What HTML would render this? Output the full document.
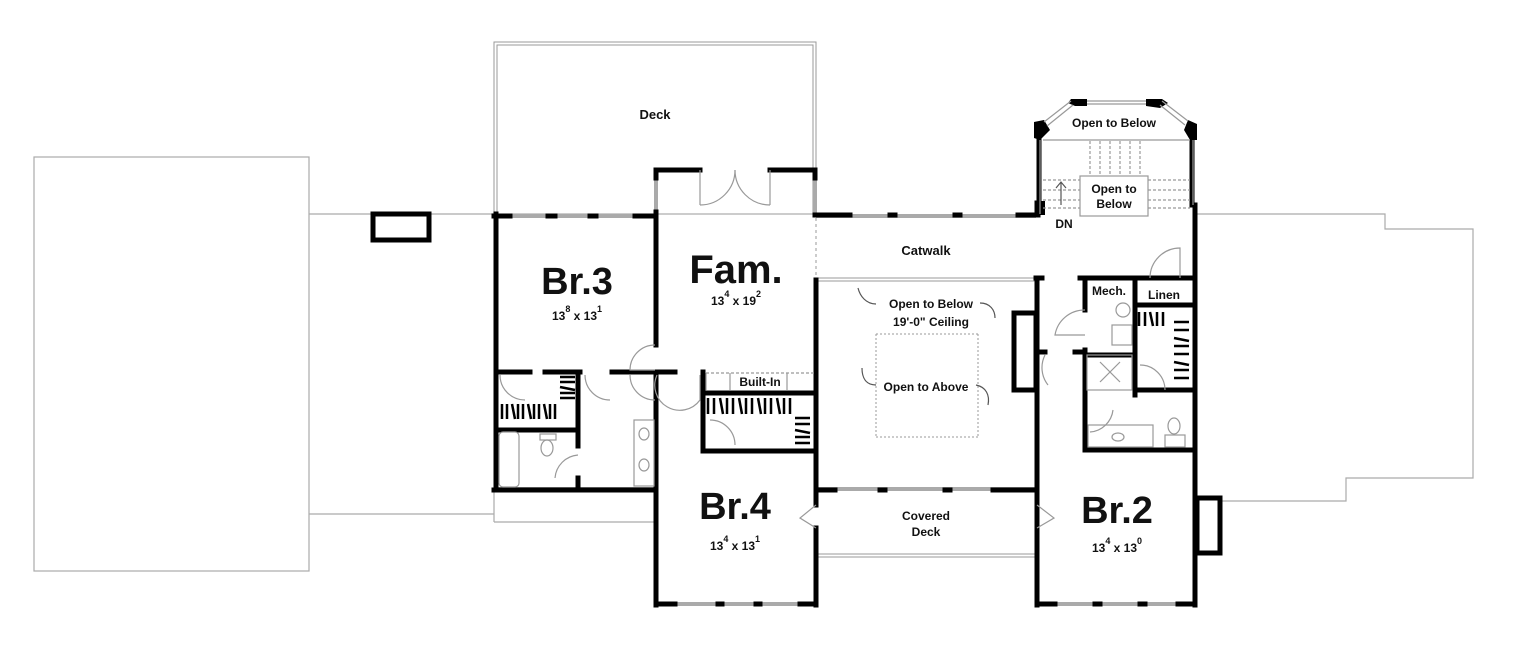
<!DOCTYPE html>
<html><head><style>
html,body{margin:0;padding:0;background:#fff;}
svg{display:block}
text{font-family:"Liberation Sans",sans-serif;font-weight:bold;fill:#111;text-anchor:middle}
</style></head><body>
<svg width="1520" height="666" viewBox="0 0 1520 666" xmlns="http://www.w3.org/2000/svg">
<rect width="1520" height="666" fill="#fff"/>
<g fill="none" stroke="#aaa" stroke-width="1.2">
<rect x="34" y="157" width="275" height="414"/>
<line x1="309" y1="214" x2="494" y2="214"/>
<line x1="309" y1="514" x2="494" y2="514"/>
<line x1="494" y1="490" x2="494" y2="522"/>
<line x1="494" y1="522" x2="655" y2="522"/>
<polyline points="1197,214 1385,214 1385,229 1473,229 1473,478 1346,478 1346,501 1222,501"/>
</g>
<rect x="373" y="214" width="56" height="26" fill="none" stroke="#000" stroke-width="5"/>
<g fill="none" stroke="#999" stroke-width="1">
<rect x="494" y="42" width="322" height="172"/>
<rect x="497" y="45" width="316" height="169"/>
<line x1="818" y1="278" x2="1036" y2="278"/><line x1="818" y1="281" x2="1036" y2="281"/>
<line x1="818" y1="554" x2="1036" y2="554"/><line x1="818" y1="557" x2="1036" y2="557"/>
<line x1="816" y1="218" x2="816" y2="276" stroke-dasharray="3 3"/>
<line x1="876" y1="334" x2="876" y2="437" stroke-dasharray="2 2"/>
<line x1="978" y1="334" x2="978" y2="437" stroke-dasharray="2 2"/>
<line x1="876" y1="334" x2="978" y2="334" stroke-dasharray="2 2"/>
<line x1="876" y1="437" x2="978" y2="437" stroke-dasharray="2 2"/>
</g>
<g stroke="#aaa" stroke-width="4">
<line x1="494" y1="216" x2="655" y2="216"/>
<line x1="816" y1="216" x2="1036" y2="216"/>
<line x1="494" y1="489" x2="655" y2="489"/>
<line x1="818" y1="489" x2="1036" y2="489"/>
<line x1="655" y1="604" x2="818" y2="604"/>
<line x1="1036" y1="604" x2="1195" y2="604"/>
<line x1="656" y1="170" x2="656" y2="214"/>
<line x1="815" y1="170" x2="815" y2="214"/>
</g>
<g fill="none" stroke="#000" stroke-width="5" stroke-linecap="square">
<polyline points="496,214 496,490 655,490"/>
<line x1="494" y1="216" x2="510" y2="216"/><line x1="548" y1="216" x2="555" y2="216"/><line x1="590" y1="216" x2="596" y2="216"/><line x1="635" y1="216" x2="655" y2="216"/>
<line x1="494" y1="490" x2="520" y2="490"/><line x1="565" y1="490" x2="575" y2="490"/><line x1="615" y1="490" x2="655" y2="490"/>
<polyline points="656,178 656,170 700,170"/><polyline points="770,170 815,170 815,178"/>
<line x1="815" y1="215" x2="838" y2="215"/>
<line x1="656" y1="212" x2="656" y2="345"/>
<line x1="656" y1="372" x2="656" y2="605"/>
<line x1="816" y1="280" x2="816" y2="505"/>
<line x1="816" y1="528" x2="816" y2="605"/>
<line x1="656" y1="604" x2="675" y2="604"/><line x1="718" y1="604" x2="722" y2="604"/><line x1="756" y1="604" x2="760" y2="604"/><line x1="800" y1="604" x2="816" y2="604"/>
<polyline points="497,372 530,372"/><line x1="545" y1="372" x2="580" y2="372"/><line x1="612" y1="372" x2="655" y2="372"/>
<line x1="578" y1="372" x2="578" y2="430"/>
<line x1="496" y1="430" x2="578" y2="430"/>
<line x1="578" y1="430" x2="578" y2="446"/>
<line x1="578" y1="478" x2="578" y2="490"/>
<line x1="655" y1="372" x2="675" y2="372"/>
<line x1="703" y1="372" x2="703" y2="446"/>
<line x1="703" y1="393" x2="815" y2="393"/>
<line x1="703" y1="451" x2="815" y2="451"/>
<line x1="838" y1="215" x2="850" y2="215"/><line x1="890" y1="215" x2="895" y2="215"/><line x1="955" y1="215" x2="960" y2="215"/><line x1="1018" y1="215" x2="1038" y2="215"/>
<line x1="1037" y1="203" x2="1037" y2="215"/>
<line x1="1037" y1="280" x2="1037" y2="605"/>
<rect x="1014" y="313" width="22" height="77"/>
<line x1="818" y1="490" x2="835" y2="490"/><line x1="880" y1="490" x2="885" y2="490"/><line x1="945" y1="490" x2="950" y2="490"/><line x1="993" y1="490" x2="1036" y2="490"/>
<line x1="1195" y1="205" x2="1195" y2="605"/>
<line x1="1037" y1="604" x2="1055" y2="604"/><line x1="1095" y1="604" x2="1100" y2="604"/><line x1="1140" y1="604" x2="1145" y2="604"/><line x1="1178" y1="604" x2="1195" y2="604"/>
<rect x="1197" y="498" width="23" height="55"/>
<line x1="1085" y1="450" x2="1195" y2="450"/>
<line x1="1085" y1="385" x2="1085" y2="450"/>
<line x1="1085" y1="278" x2="1085" y2="310"/>
<line x1="1085" y1="350" x2="1085" y2="355"/>
<line x1="1036" y1="278" x2="1042" y2="278"/>
<line x1="1080" y1="278" x2="1190" y2="278"/>
<line x1="1135" y1="278" x2="1135" y2="395"/>
<line x1="1135" y1="305" x2="1195" y2="305"/>
<line x1="1085" y1="355" x2="1135" y2="355"/>
<line x1="1140" y1="390" x2="1195" y2="390"/>
<line x1="1036" y1="352" x2="1045" y2="352"/><line x1="1075" y1="352" x2="1085" y2="352"/>
<line x1="1085" y1="355" x2="1085" y2="395"/>
<polyline points="1030,215 1037,215 1037,205"/>
<line x1="1039" y1="205" x2="1039" y2="138"/>
<line x1="1192" y1="205" x2="1192" y2="138"/>
</g>
<g fill="#000">
<polygon points="1034,122 1044,120 1050,130 1040,140 1034,138"/>
<polygon points="1071,99 1087,99 1087,106 1075,106 1068,103"/>
<polygon points="1146,99 1162,99 1168,103 1160,108 1146,106"/>
<polygon points="1188,120 1197,124 1197,140 1190,140 1184,130"/>
<rect x="1035" y="201" width="10" height="14"/>
</g>
<g fill="none" stroke="#999" stroke-width="1.2">
<line x1="1087" y1="101" x2="1146" y2="101"/><line x1="1087" y1="104" x2="1146" y2="104"/>
<line x1="1044" y1="122" x2="1071" y2="101"/><line x1="1047" y1="126" x2="1073" y2="105"/>
<line x1="1162" y1="101" x2="1188" y2="121"/><line x1="1160" y1="105" x2="1185" y2="125"/>
<line x1="1043" y1="140" x2="1190" y2="140"/>
<rect x="1080" y="176" width="68" height="40"/>
<line x1="1040" y1="140" x2="1040" y2="214"/><line x1="1193" y1="140" x2="1193" y2="205"/>
<g stroke-dasharray="3 2">
<line x1="1090" y1="141" x2="1090" y2="176"/><line x1="1100" y1="141" x2="1100" y2="176"/><line x1="1110" y1="141" x2="1110" y2="176"/><line x1="1120" y1="141" x2="1120" y2="176"/><line x1="1130" y1="141" x2="1130" y2="176"/><line x1="1140" y1="141" x2="1140" y2="176"/>
<line x1="1043" y1="180" x2="1080" y2="180"/><line x1="1043" y1="190" x2="1080" y2="190"/><line x1="1043" y1="200" x2="1080" y2="200"/><line x1="1043" y1="208" x2="1080" y2="208"/>
<line x1="1148" y1="180" x2="1190" y2="180"/><line x1="1148" y1="190" x2="1190" y2="190"/><line x1="1148" y1="200" x2="1190" y2="200"/><line x1="1148" y1="208" x2="1190" y2="208"/>
</g>
<line x1="1061" y1="205" x2="1061" y2="182" stroke="#555"/><polyline points="1056,188 1061,182 1066,188" stroke="#555"/>
<line x1="700" y1="170" x2="700" y2="205"/><line x1="770" y1="170" x2="770" y2="205"/>
<path d="M700 205 A35 35 0 0 0 735 170"/><path d="M770 205 A35 35 0 0 1 735 170"/>
<path d="M655 345 A25 25 0 0 0 630 370 L655 370"/>
<path d="M630 375 A25 25 0 0 0 655 400"/>
<path d="M657 375 A25 25 0 0 0 700 400 L700 375"/>
<path d="M816 505 L800 518 L816 528"/>
<path d="M1037 505 L1054 518 L1037 528"/>
<path d="M500 375 A25 25 0 0 0 525 400"/>
<path d="M585 375 A25 25 0 0 0 610 400"/>
<path d="M555 478 A25 25 0 0 1 578 455"/>
<path d="M1085 310 A30 30 0 0 0 1055 335 L1085 335"/>
<path d="M1045 355 A28 28 0 0 0 1048 385"/>
<path d="M1150 278 A30 30 0 0 1 1180 248 L1180 278"/>
<path d="M1140 365 A25 25 0 0 1 1165 390"/>
<path d="M1090 432 A25 25 0 0 0 1113 410"/>
<path d="M710 420 A25 25 0 0 1 735 445"/>
<rect x="499" y="432" width="20" height="55" rx="4"/>
<ellipse cx="547" cy="448" rx="6" ry="8"/><rect x="540" y="434" width="16" height="6"/>
<rect x="634" y="420" width="20" height="66"/>
<ellipse cx="644" cy="434" rx="5" ry="6"/><ellipse cx="644" cy="465" rx="5" ry="6"/>
<rect x="1087" y="355" width="45" height="35"/>
<line x1="1100" y1="362" x2="1120" y2="382"/><line x1="1120" y1="362" x2="1100" y2="382"/>
<rect x="1112" y="325" width="20" height="20"/>
<circle cx="1123" cy="310" r="7"/>
<rect x="1088" y="425" width="65" height="22"/><ellipse cx="1118" cy="437" rx="6" ry="4"/>
<ellipse cx="1174" cy="426" rx="6" ry="8"/><rect x="1165" y="435" width="20" height="12"/>
<line x1="706" y1="373" x2="706" y2="390"/><line x1="730" y1="373" x2="730" y2="390"/><line x1="787" y1="373" x2="787" y2="390"/>
<line x1="706" y1="373" x2="815" y2="373" stroke-dasharray="3 2"/>
<path d="M876 304 C866 304 860 296 858 288" stroke="#555"/>
<path d="M980 303 C990 303 995 310 995 318" stroke="#555"/>
<path d="M876 385 C866 385 862 378 862 368" stroke="#555"/>
<path d="M976 385 C986 387 990 395 988 405" stroke="#555"/>
</g>
<g stroke="#000" stroke-width="2.5" fill="none">
<path d="M502 404 v15 M507 404 v15 M512 404 l3 15 M518 404 v15 M523 404 v15 M528 404 l3 15 M534 404 v15 M539 404 v15 M544 404 l3 15 M550 404 v15 M555 404 v15"/>
<path d="M560 377 h15 M560 382 h15 M560 387 l15 3 M560 393 h15 M560 398 h15"/>
<path d="M708 398 v16 M714 398 v16 M720 398 l3 16 M727 398 v16 M733 398 v16 M739 398 l3 16 M746 398 v16 M752 398 v16 M758 398 l3 16 M765 398 v16 M771 398 v16 M777 398 l3 16 M784 398 v16 M790 398 v16"/>
<path d="M795 418 h15 M795 424 h15 M795 430 l15 3 M795 437 h15 M795 443 h15"/>
<path d="M1139 312 v14 M1145 312 v14 M1150 312 l3 14 M1157 312 v14 M1163 312 v14"/>
<path d="M1174 322 h15 M1174 330 h15 M1174 338 l15 3 M1174 346 h15 M1174 354 h15 M1174 362 l15 3 M1174 370 h15 M1174 378 h15"/>
</g>
<text x="655" y="119" font-size="13">Deck</text>
<text x="577" y="294" font-size="38">Br.3</text>
<text x="577" y="320" font-size="12" font-weight="normal">13<tspan dy="-8" font-size="9">8</tspan><tspan dy="8"> x 13</tspan><tspan dy="-8" font-size="9">1</tspan></text>
<text x="736" y="283" font-size="40">Fam.</text>
<text x="736" y="305" font-size="12" font-weight="normal">13<tspan dy="-8" font-size="9">4</tspan><tspan dy="8"> x 19</tspan><tspan dy="-8" font-size="9">2</tspan></text>
<text x="760" y="386" font-size="12">Built-In</text>
<text x="926" y="255" font-size="13">Catwalk</text>
<text x="931" y="308" font-size="12">Open to Below</text>
<text x="931" y="326" font-size="12">19'-0" Ceiling</text>
<text x="926" y="391" font-size="12">Open to Above</text>
<text x="926" y="520" font-size="12">Covered</text>
<text x="926" y="536" font-size="12">Deck</text>
<text x="735" y="519" font-size="38">Br.4</text>
<text x="735" y="550" font-size="12" font-weight="normal">13<tspan dy="-8" font-size="9">4</tspan><tspan dy="8"> x 13</tspan><tspan dy="-8" font-size="9">1</tspan></text>
<text x="1117" y="523" font-size="38">Br.2</text>
<text x="1117" y="552" font-size="12" font-weight="normal">13<tspan dy="-8" font-size="9">4</tspan><tspan dy="8"> x 13</tspan><tspan dy="-8" font-size="9">0</tspan></text>
<text x="1114" y="127" font-size="12">Open to Below</text>
<text x="1114" y="193" font-size="12">Open to</text>
<text x="1114" y="208" font-size="12">Below</text>
<text x="1064" y="228" font-size="12">DN</text>
<text x="1109" y="295" font-size="12">Mech.</text>
<text x="1164" y="299" font-size="12">Linen</text>
</svg>
</body></html>
